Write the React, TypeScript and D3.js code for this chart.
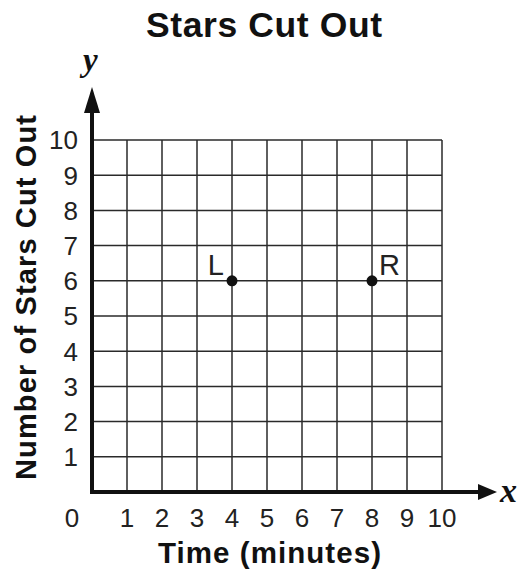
import React from "react";
import * as d3 from "d3";

const xTicks = [1, 2, 3, 4, 5, 6, 7, 8, 9, 10];
const yTicks = [1, 2, 3, 4, 5, 6, 7, 8, 9, 10];
const points = [
  { label: "L", x: 4, y: 6, side: "left" },
  { label: "R", x: 8, y: 6, side: "right" },
];
const title = "Stars Cut Out";
const xTitle = "Time (minutes)";
const yTitle = "Number of Stars Cut Out";

export default function App() {
  const W = 522, H = 573;
  const x = d3.scaleLinear().domain([0, 10]).range([92, 442]);
  const y = d3.scaleLinear().domain([0, 10]).range([492, 140]);
  const font = "'Liberation Sans', Arial, Helvetica, sans-serif";
  const serif = "'Liberation Serif', 'Times New Roman', serif";
  const grid = "#2a2a2a";
  return (
    <svg width={W} height={H} style={{ position: "absolute", left: 0, top: 0 }}>
      <rect width={W} height={H} fill="#fff" />
      {xTicks.map((t) => (
        <line key={"gx" + t} x1={x(t)} x2={x(t)} y1={y(0)} y2={y(10)} stroke={grid} strokeWidth={1.5} />
      ))}
      {yTicks.map((t) => (
        <line key={"gy" + t} x1={x(0)} x2={x(10)} y1={y(t)} y2={y(t)} stroke={grid} strokeWidth={1.5} />
      ))}
      <line x1={x(0) - 2} x2={484} y1={y(0)} y2={y(0)} stroke="#111" strokeWidth={4} />
      <line x1={x(0)} x2={x(0)} y1={y(0) + 2} y2={106} stroke="#111" strokeWidth={4} />
      <path d={`M497,${y(0)} L478,${y(0) - 8} L478,${y(0) + 8} Z`} fill="#111" />
      <path d={`M${x(0)},87 L${x(0) - 8},113 L${x(0) + 8},113 Z`} fill="#111" />
      <text x={500} y={y(0) + 10} fontFamily={serif} fontStyle="italic" fontWeight="bold" fontSize={34} fill="#111">x</text>
      <text x={x(0) - 9} y={71} fontFamily={serif} fontStyle="italic" fontWeight="bold" fontSize={33} fill="#111">y</text>
      {yTicks.map((t) => (
        <text key={"ty" + t} x={78} y={y(t)} dy="0.36em" textAnchor="end" fontFamily={font} fontSize={26} fill="#222">{t}</text>
      ))}
      <text x={72} y={527} textAnchor="middle" fontFamily={font} fontSize={26} fill="#222">0</text>
      {xTicks.map((t) => (
        <text key={"tx" + t} x={x(t)} y={527} textAnchor="middle" fontFamily={font} fontSize={26} fill="#222">{t}</text>
      ))}
      {points.map((p) => (
        <g key={p.label}>
          <circle cx={x(p.x)} cy={y(p.y)} r={5.5} fill="#111" />
          <text x={p.side === "left" ? x(p.x) - 8 : x(p.x) + 7} y={y(p.y) - 6} textAnchor={p.side === "left" ? "end" : "start"} fontFamily={font} fontSize={29} fill="#222">{p.label}</text>
        </g>
      ))}
      <text x={264} y={37} textAnchor="middle" fontFamily={font} fontWeight="bold" fontSize={35.5} textLength={236} lengthAdjust="spacing" fill="#111">{title}</text>
      <text x={269.5} y={563} textAnchor="middle" fontFamily={font} fontWeight="bold" fontSize={29.5} textLength={223} lengthAdjust="spacing" fill="#111">{xTitle}</text>
      <text transform={`translate(36,297.5) rotate(-90)`} textAnchor="middle" fontFamily={font} fontWeight="bold" fontSize={29} textLength={365} lengthAdjust="spacing" fill="#111">{yTitle}</text>
    </svg>
  );
}
